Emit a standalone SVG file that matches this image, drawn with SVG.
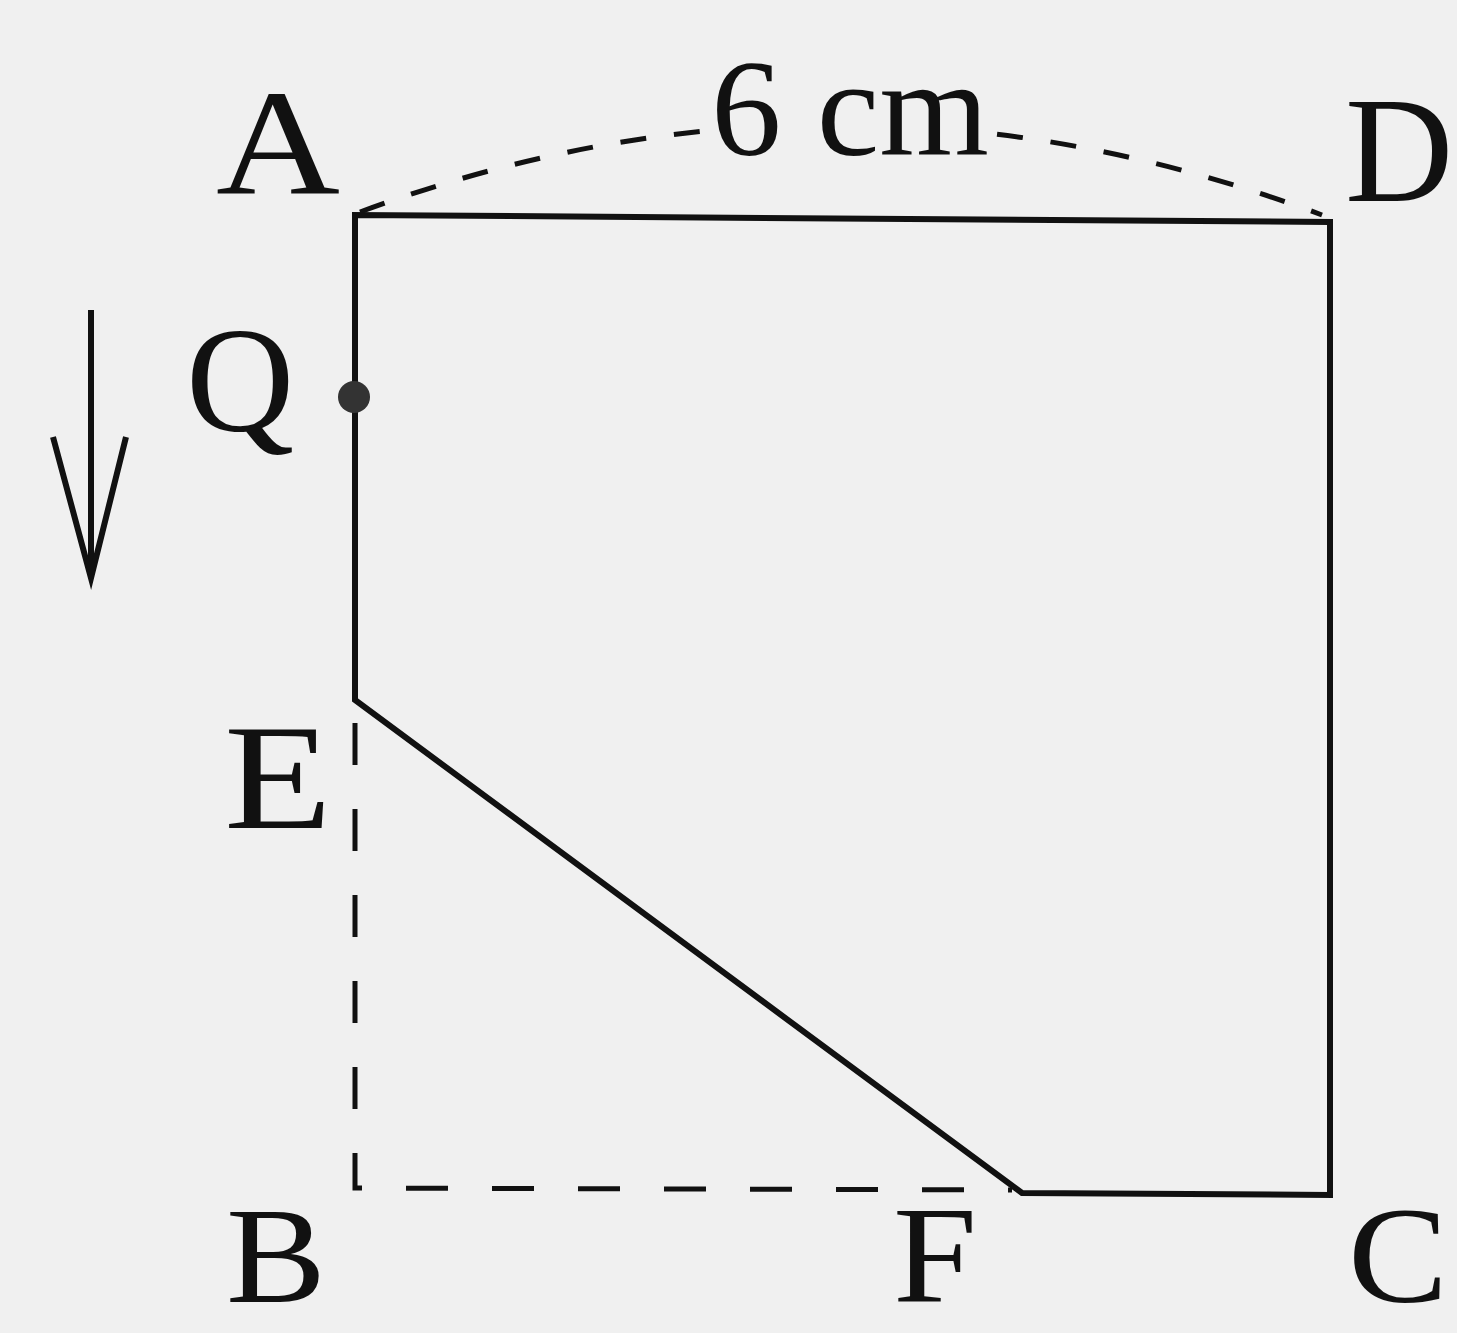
<svg xmlns="http://www.w3.org/2000/svg" width="1457" height="1333" viewBox="0 0 1457 1333">
<style>
.lbl{font-family:"Liberation Serif","Times New Roman",serif;font-size:150px;fill:#111}
.low{font-size:138px}
.solid{fill:none;stroke:#111;stroke-width:6;stroke-linejoin:miter}
.dash{fill:none;stroke:#111;stroke-width:5;stroke-dasharray:42 44}
.arc{fill:none;stroke:#111;stroke-width:5;stroke-dasharray:26 28}
</style>
<rect width="1457" height="1333" fill="#f0f0f0"/>
<g id="connectors">
<path class="arc" d="M360,212 Q840,35 1322,215"/>
<rect x="700" y="60" width="295" height="110" fill="#f0f0f0"/>
<path class="solid" d="M355,700 L355,215 L1330,222 L1330,1195 L1022,1193 Z"/>
<path class="dash" d="M355,723 L355,1188 L1012,1190"/>
<line x1="91" y1="310" x2="91" y2="575" stroke="#111" stroke-width="6"/>
<polyline points="53,437 91,578 126,437" fill="none" stroke="#111" stroke-width="6"/>
</g>
<g id="node-Q"><circle cx="354" cy="397" r="16" fill="#333"/><text class="lbl" x="186" y="431">Q</text></g>
<g id="node-A"><text class="lbl" x="216" y="193" textLength="124" lengthAdjust="spacingAndGlyphs">A</text></g>
<g id="node-D"><text class="lbl" x="1345" y="201">D</text></g>
<g id="node-E"><text class="lbl" x="224" y="828" textLength="108" lengthAdjust="spacingAndGlyphs">E</text></g>
<g id="node-B"><text class="lbl low" x="226" y="1302" textLength="100" lengthAdjust="spacingAndGlyphs">B</text></g>
<g id="node-F"><text class="lbl low" x="893" y="1302" textLength="84" lengthAdjust="spacingAndGlyphs">F</text></g>
<g id="node-C"><text class="lbl low" x="1348" y="1302" textLength="100" lengthAdjust="spacingAndGlyphs">C</text></g>
<g id="label-6cm"><text class="lbl" style="font-size:138px" x="711" y="155" textLength="278" lengthAdjust="spacingAndGlyphs">6 cm</text></g>
</svg>
